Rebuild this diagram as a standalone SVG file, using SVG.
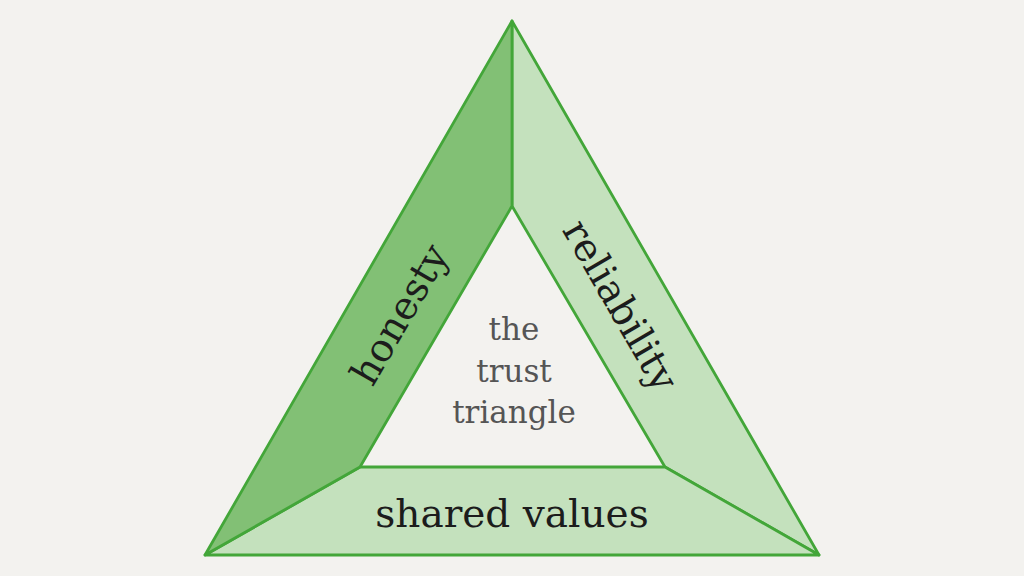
<svg xmlns="http://www.w3.org/2000/svg" width="1024" height="576" viewBox="0 0 1024 576">
<style>
.seg{stroke:#43a639;stroke-width:2.8;stroke-linejoin:round}
.dark{fill:#82c075}
.light{fill:#c4e1bd}
.lbl{font-family:"DejaVu Serif",serif;font-size:39px;fill:#1c1c1c;text-anchor:middle}
.center{font-family:"DejaVu Serif",serif;font-size:31px;fill:#555;text-anchor:middle}
</style>
<rect width="1024" height="576" fill="#f3f2ef"/>
<g id="inner">
<polygon points="512,206 360,467 665,467" fill="#f3f2ef"/>
</g>
<g id="right-segment">
<polygon class="seg light" points="512,21 819,555 665,467 512,206"/>
</g>
<g id="bottom-segment">
<polygon class="seg light" points="205,555 360,467 665,467 819,555"/>
</g>
<g id="left-segment">
<polygon class="seg dark" points="512,21 512,206 360,467 205,555"/>
</g>
<g id="labels">
<text class="lbl" transform="translate(399,314) rotate(-60)" dy="14">honesty</text>
<text class="lbl" transform="translate(621,305) rotate(60)" dy="14">reliability</text>
<text class="lbl" x="512" y="527">shared values</text>
</g>
<g id="center-label">
<text class="center" x="514" y="340">the</text>
<text class="center" x="514" y="382">trust</text>
<text class="center" x="514" y="423">triangle</text>
</g>
</svg>
